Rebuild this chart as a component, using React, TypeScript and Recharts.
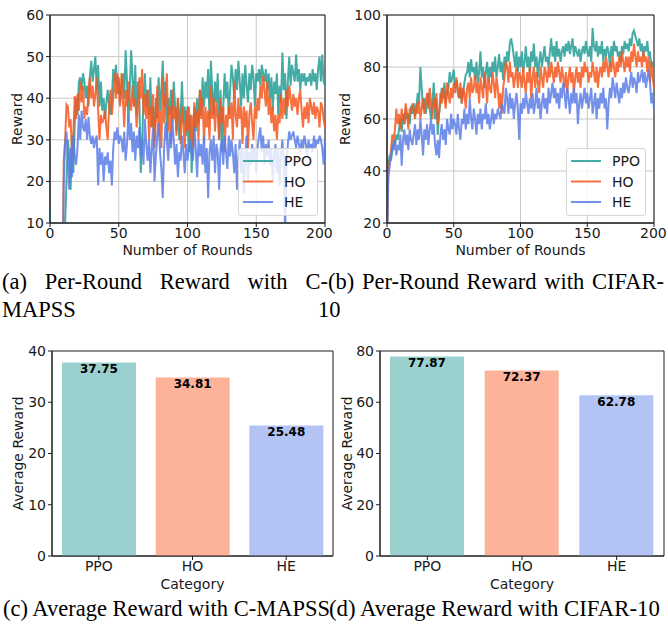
import React from "react";
import {
  LineChart,
  Line,
  BarChart,
  Bar,
  Cell,
  LabelList,
  XAxis,
  YAxis,
  CartesianGrid,
  Legend,
  ReferenceArea,
} from "recharts";

const FONT = "'DejaVu Sans', sans-serif";
const SERIF = "'Liberation Serif', 'Times New Roman', serif";
const INK = "#1a1a1a";

const SERIES = ["PPO", "HO", "HE"];
const LINE_COLORS: Record<string, string> = { PPO: "#249e95", HO: "#f6571d", HE: "#5a7de8" };
const BAR_COLORS = ["#9ad1cf", "#fdb29a", "#b3c3f3"];

const ROUND_TICKS = [0, 50, 100, 150, 200];
const TICKS_A = [10, 20, 30, 40, 50, 60];
const TICKS_B = [20, 40, 60, 80, 100];
const TICKS_C = [0, 10, 20, 30, 40];
const TICKS_D = [0, 20, 40, 60, 80];

// (a) C-MAPSS, one value per round 0..200 (early rounds sit below the axis)
const PPO_A = [
  13.5, -20, -25, -18, -30, -22, -15, -28, -20, -10,
  5, 10, 20, 30, 26, 18, 31, 22, 34, 40,
  36, 44, 45, 42, 46, 44, 40, 43, 38, 45,
  49, 44, 47, 50, 42, 48, 38, 44, 37, 40,
  35, 39, 42, 38, 36, 40, 47, 44, 48, 41,
  45, 39, 43, 46, 40, 51.5, 44, 34, 42, 51.5,
  45, 38, 48, 36, 44, 40, 22, 30, 39, 46,
  38, 42, 36, 45, 33, 38, 30, 40, 35, 45,
  37, 42, 49, 38, 44, 30, 40, 36, 42, 34,
  44, 38, 32, 40, 30, 36, 44, 34, 38, 31,
  38, 27, 36, 22, 30, 38, 32, 40, 34, 42,
  36, 45, 38, 44, 40, 47, 35, 49, 42, 36,
  44, 39, 46, 30, 42, 27, 38, 46, 40, 44,
  36, 42, 48, 45, 40, 47, 42, 49, 44, 38,
  46, 40, 48, 43, 39, 46, 42, 48, 45, 38,
  46, 44, 47, 43, 48, 46, 44, 47, 42, 46,
  40, 45, 37, 44, 41, 46, 36, 43, 39, 51,
  42, 46, 35, 44, 50, 43, 48, 46, 44, 50.5,
  44, 47, 42, 46, 44, 46, 43, 45, 44, 46,
  43, 47, 44, 46, 42, 47, 50, 44, 50.5, 44,
  43,
];
const HO_A = [
  -15, -20, -18, -25, -22, -20, -26, -18, -15, -10,
  25, 30, 38.5, 38, 33, 35, 26, 32, 40.5, 35,
  41, 37, 44, 39, 43, 35, 38, 36, 42, 45,
  40, 43, 38, 41, 45, 37, 30, 36, 34, 35,
  37, 33, 30, 38, 42, 36, 40, 46, 40, 46,
  43, 38, 46, 40, 33, 42, 38, 44, 39, 37,
  43, 38, 40, 33, 38, 45, 40, 47, 36, 41,
  35, 42, 30, 38, 33, 41, 28, 35, 43, 31,
  37, 28, 45, 34, 40, 46, 32, 38, 29, 42,
  35, 38, 31, 40, 36, 29, 38, 34, 28, 37,
  32, 38, 30, 36, 28, 39, 33, 37, 30, 42,
  35, 40, 29, 38, 33, 37, 30, 43, 35, 40,
  32, 39, 36, 30, 40, 34, 38, 27, 36, 33,
  38, 35, 39, 30, 44, 36, 33, 40, 35, 38,
  29, 38, 33, 37, 28, 36, 39, 34, 30, 38,
  35, 40, 37, 43, 40, 45.5, 42, 38, 44, 36,
  40, 34, 38, 32, 36, 30, 36, 34, 41, 35,
  40, 36, 42, 38, 43, 40, 37, 41, 38, 40,
  36, 40, 42, 37, 33, 38, 35, 39, 34, 40,
  38, 36, 39, 35, 38, 37, 33, 39, 38, 35,
  33,
];
const HE_A = [
  -20, -25, -22, -28, -24, -20, -26, -22, -18, -15,
  20, 29, 32, 25, 18, 28, 21, 31, 26, 24,
  28, 36, 30, 37, 33, 32, 35, 30, 35.5, 31,
  29, 31, 28, 30, 31, 19, 28, 24, 27, 20,
  26, 24, 27, 22, 25, 19, 28, 32, 30, 33,
  29, 31, 30, 27, 32, 25, 29, 36, 30, 34,
  27, 32, 25, 31, 28, 33, 26, 30, 24, 35,
  29, 25, 30, 22, 28, 33, 20, 26, 31, 34,
  27, 23, 16, 28, 34, 30, 25, 32, 28, 35,
  30, 24, 29, 21, 27, 25, 31, 27, 22, 29,
  25, 28, 30, 27, 25, 33, 28, 21, 30, 26,
  29, 24, 31, 22, 28, 16, 27, 30, 25, 31,
  22, 29, 27, 18, 28, 30, 24, 31, 27, 23,
  31, 26, 30, 27, 22, 29, 18, 26, 30, 22,
  28, 17, 26, 31, 20, 27, 24, 29, 25, 28,
  22, 28, 31, 33, 27, 31, 24, 29, 26, 30,
  24, 28, 20, 26, 29, 22, 28, 19, 26, 30,
  25, 8, 24, 29, 32, 30, 31, 32, 30, 28,
  31, 29, 27, 30, 28, 31, 29, 26, 30, 28,
  29, 27, 31, 28, 30, 29, 31, 30, 28, 24,
  30,
];

// (b) CIFAR-10
const PPO_B = [
  18, 42, 46, 44, 48, 52, 50, 54, 52, 56,
  60, 55, 62, 58, 64, 60, 62, 58, 65, 62,
  66, 61, 64, 70, 66, 80, 72, 64, 68, 62,
  66, 70, 64, 60, 66, 74, 60, 68, 54, 62,
  66, 72, 68, 74, 66, 70, 72, 78, 74, 76,
  79, 72, 75, 70, 68, 72, 66, 70, 74, 77,
  78, 82, 76, 83, 78, 80, 75, 82, 74, 78,
  86, 76, 80, 72, 78, 82, 74, 80, 76, 82,
  78, 84, 76, 80, 85, 78, 82, 75, 84, 80,
  86, 82, 89, 91, 88, 84, 80, 86, 78, 84,
  80, 86, 78, 82, 88, 80, 84, 78, 86, 82,
  89, 80, 84, 76, 82, 86, 80, 84, 88, 82,
  84, 80, 86, 91, 84, 88, 82, 90, 84, 87,
  82, 86, 88, 84, 89, 86, 90, 85, 88, 91,
  84, 88, 86, 84, 87, 82, 86, 88, 85, 90,
  86, 84, 88, 82, 95, 88, 86, 90, 84, 88,
  85, 90, 82, 87, 84, 88, 86, 80, 88, 84,
  90, 86, 88, 84, 86, 82, 88, 85, 90, 87,
  89, 86, 91, 88, 93, 94, 92, 90, 88, 91,
  86, 89, 84, 88, 86, 90, 84, 86, 80, 82,
  80,
];
const HO_B = [
  15, 40, 44, 48, 54, 52, 56, 64, 58, 62,
  56, 64, 60, 58, 66, 62, 56, 64, 62, 66,
  64, 60, 66, 62, 67, 60, 64, 68, 62, 66,
  70, 64, 72, 66, 60, 68, 64, 70, 58, 62,
  70, 66, 72, 68, 64, 74, 70, 66, 72, 68,
  74, 70, 76, 72, 68, 74, 66, 72, 70, 64,
  72, 74, 68, 76, 70, 72, 77, 70, 74, 66,
  76, 72, 68, 78, 74, 66, 76, 72, 70, 78,
  74, 68, 76, 72, 64, 70, 62, 72, 76, 82,
  80, 74, 82, 76, 78, 72, 76, 80, 72, 78,
  76, 72, 80, 74, 70, 78, 74, 80, 68, 76,
  80, 72, 78, 74, 70, 80, 76, 72, 80, 78,
  74, 80, 76, 82, 78, 74, 80, 76, 82, 78,
  74, 80, 76, 72, 78, 70, 76, 80, 74, 78,
  70, 76, 80, 74, 78, 72, 80, 76, 82, 78,
  80, 74, 78, 76, 82, 78, 74, 80, 72, 78,
  80, 76, 82, 78, 84, 80, 76, 82, 78, 84,
  80, 76, 82, 78, 84, 80, 86, 82, 78, 84,
  80, 84, 78, 86, 82, 89, 84, 80, 86, 82,
  84, 80, 86, 82, 84, 78, 84, 74, 82, 76,
  72,
];
const HE_B = [
  10, 38, 42, 46, 50, 48, 52, 46, 50, 48,
  54, 42, 52, 56, 50, 54, 48, 56, 52, 50,
  54, 58, 50, 56, 52, 60, 54, 46, 56, 52,
  58, 50, 56, 60, 54, 58, 50, 46, 52, 45,
  54, 58, 52, 56, 50, 60, 56, 54, 62, 56,
  60, 58, 54, 62, 56, 52, 60, 58, 64, 56,
  62, 58, 68, 60, 56, 64, 60, 54, 62, 58,
  64, 56, 62, 60, 66, 58, 62, 56, 60, 64,
  58, 62, 60, 64, 62, 60, 66, 64, 62, 72,
  68, 62, 70, 64, 68, 60, 66, 70, 64, 52,
  66, 62, 68, 64, 70, 66, 62, 68, 64, 70,
  62, 66, 72, 64, 68, 60, 66, 70, 64, 68,
  62, 72, 66, 70, 74, 68, 72, 66, 70, 64,
  72, 68, 74, 70, 64, 72, 68, 62, 70, 66,
  72, 66, 70, 58, 66, 70, 64, 68, 72, 66,
  70, 64, 68, 72, 62, 66, 70, 60, 68, 64,
  70, 66, 72, 64, 68, 56, 66, 72, 68, 76,
  72, 68, 74, 70, 66, 72, 68, 74, 70, 76,
  72, 70, 74, 78, 72, 76, 74, 70, 78, 74,
  76, 79, 74, 78, 72, 76, 79, 74, 66, 70,
  64,
];

// (c) / (d) averages
const CATEGORIES = ["PPO", "HO", "HE"];
const AVG_C = [37.75, 34.81, 25.48];
const AVG_D = [77.87, 72.37, 62.78];

const tickStyle = { fontSize: 14, fontFamily: FONT, fill: INK };
const labelStyle = { fontSize: 14, fontFamily: FONT, fill: INK };

function buildRounds(ppo: number[], ho: number[], he: number[]) {
  return ppo.map((v, i) => ({ round: i, PPO: v, HO: ho[i], HE: he[i] }));
}

function LegendBox() {
  return (
    <div
      style={{
        width: 80,
        height: 68,
        boxSizing: "border-box",
        background: "rgba(255,255,255,0.8)",
        border: "1px solid #d6d6d6",
        borderRadius: 3,
        position: "relative",
      }}
    >
      <svg width={78} height={66} style={{ position: "absolute", left: 0, top: 0 }}>
        {SERIES.map((name, i) => {
          const y = 12 + i * 20.5;
          return (
            <g key={name}>
              <line x1={4} x2={34} y1={y} y2={y} stroke={LINE_COLORS[name]} strokeWidth={2} strokeOpacity={0.85} />
              <text x={45} y={y} dy="0.36em" fontSize={14} fontFamily={FONT} fill={INK}>
                {name}
              </text>
            </g>
          );
        })}
      </svg>
    </div>
  );
}

interface ILinePanelProps {
  left: number;
  rows: Record<string, number>[];
  yDomain: [number, number];
  yTicks: number[];
  yWidth: number;
  marginRight: number;
  labelX: number;
  legendLeft: number;
}

function LinePanel({ left, rows, yDomain, yTicks, yWidth, marginRight, labelX, legendLeft }: ILinePanelProps) {
  return (
    <div style={{ position: "absolute", left, top: 0 }}>
      <LineChart width={334} height={262} data={rows} margin={{ top: 15, right: marginRight, bottom: 0, left: 0 }}>
        <CartesianGrid stroke="#c8c8c8" strokeWidth={1} />
        <XAxis
          dataKey="round"
          type="number"
          domain={[0, 200]}
          ticks={ROUND_TICKS}
          height={39}
          tickSize={4}
          tickMargin={1}
          tick={tickStyle}
          stroke={INK}
          label={{ value: "Number of Rounds", position: "insideBottom", offset: 7, style: labelStyle }}
        />
        <YAxis
          type="number"
          domain={yDomain}
          ticks={yTicks}
          allowDataOverflow
          width={yWidth}
          tickSize={4}
          tickMargin={2}
          tick={tickStyle}
          stroke={INK}
          label={{
            value: "Reward",
            angle: -90,
            position: "insideLeft",
            offset: labelX,
            style: { ...labelStyle, textAnchor: "middle" },
          }}
        />
        <ReferenceArea x1={0} x2={200} y1={yDomain[0]} y2={yDomain[1]} fill="none" stroke={INK} strokeWidth={1} />
        {SERIES.map((name) => (
          <Line
            key={name}
            dataKey={name}
            type="linear"
            stroke={LINE_COLORS[name]}
            strokeWidth={2}
            strokeOpacity={0.85}
            dot={false}
            isAnimationActive={false}
          />
        ))}
        <Legend
          layout="vertical"
          align="center"
          verticalAlign="middle"
          content={() => <LegendBox />}
          wrapperStyle={{ left: legendLeft, top: 148, width: 80, height: 68 }}
        />
      </LineChart>
    </div>
  );
}

interface IBarPanelProps {
  left: number;
  values: number[];
  yTicks: number[];
  yWidth: number;
  marginRight: number;
  labelX: number;
}

function BarPanel({ left, values, yTicks, yWidth, marginRight, labelX }: IBarPanelProps) {
  const rows = CATEGORIES.map((c, i) => ({ category: c, value: values[i] }));
  const top = yTicks[yTicks.length - 1];
  return (
    <div style={{ position: "absolute", left, top: 336 }}>
      <BarChart width={334} height={260} data={rows} margin={{ top: 15, right: marginRight, bottom: 0, left: 0 }}>
        <XAxis
          dataKey="category"
          height={40}
          tickSize={4}
          tickMargin={1}
          tick={tickStyle}
          stroke={INK}
          label={{ value: "Category", position: "insideBottom", offset: 7, style: labelStyle }}
        />
        <YAxis
          type="number"
          domain={[0, top]}
          ticks={yTicks}
          width={yWidth}
          tickSize={4}
          tickMargin={2}
          tick={tickStyle}
          stroke={INK}
          label={{
            value: "Average Reward",
            angle: -90,
            position: "insideLeft",
            offset: labelX,
            style: { ...labelStyle, textAnchor: "middle" },
          }}
        />
        <ReferenceArea y1={0} y2={top} fill="none" stroke={INK} strokeWidth={1} />
        <Bar dataKey="value" barSize={74} isAnimationActive={false}>
          {rows.map((r, i) => (
            <Cell key={r.category} fill={BAR_COLORS[i]} />
          ))}
          <LabelList
            dataKey="value"
            position="insideTop"
            offset={2}
            formatter={(v: number) => v.toFixed(2)}
            style={{ fontSize: 12, fontWeight: "bold", fontFamily: FONT, fill: "#000" }}
          />
        </Bar>
      </BarChart>
    </div>
  );
}

const captionStyle: React.CSSProperties = {
  position: "absolute",
  fontFamily: SERIF,
  fontSize: 22.5,
  lineHeight: "24px",
  color: "#000",
  whiteSpace: "nowrap",
};

export default function App() {
  const rowsA = buildRounds(PPO_A, HO_A, HE_A);
  const rowsB = buildRounds(PPO_B, HO_B, HE_B);
  return (
    <div style={{ position: "absolute", left: 0, top: 0, width: 668, height: 625, background: "#fff", overflow: "hidden" }}>
      <LinePanel left={0} rows={rowsA} yDomain={[10, 60]} yTicks={TICKS_A} yWidth={50} marginRight={9} labelX={17} legendLeft={238} />
      <LinePanel left={334} rows={rowsB} yDomain={[20, 100]} yTicks={TICKS_B} yWidth={53} marginRight={14} labelX={11} legendLeft={232} />
      <BarPanel left={0} values={AVG_C} yTicks={TICKS_C} yWidth={52} marginRight={1} labelX={18} />
      <BarPanel left={334} values={AVG_D} yTicks={TICKS_D} yWidth={46} marginRight={4} labelX={13} />

      <div style={{ ...captionStyle, left: 2, top: 270, width: 326, textAlign: "justify", textAlignLast: "justify" }}>
        (a) Per-Round Reward with C-
      </div>
      <div style={{ ...captionStyle, left: 2, top: 298 }}>MAPSS</div>
      <div style={{ ...captionStyle, left: 328, top: 270, width: 336, textAlign: "justify", textAlignLast: "justify" }}>
        (b) Per-Round Reward with CIFAR-
      </div>
      <div style={{ ...captionStyle, left: 318, top: 298 }}>10</div>
      <div style={{ ...captionStyle, left: 3, top: 597, width: 326, textAlign: "justify", textAlignLast: "justify" }}>
        (c) Average Reward with C-MAPSS
      </div>
      <div style={{ ...captionStyle, left: 329, top: 597, fontSize: 22.8 }}>(d) Average Reward with CIFAR-10</div>
    </div>
  );
}
